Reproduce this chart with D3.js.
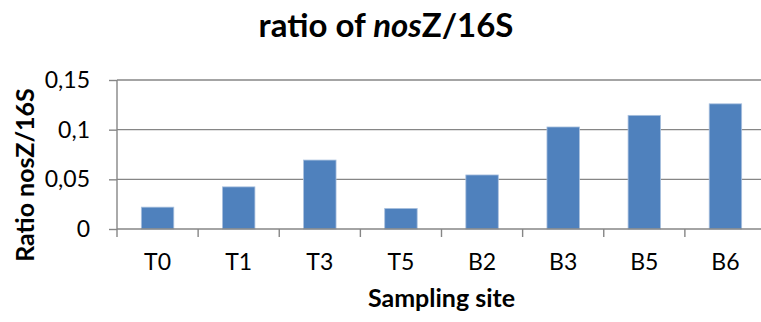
<!DOCTYPE html>
<html lang="en">
  <head>
    <meta charset="UTF-8" />
    <title>ratio of nosZ/16S</title>
    <style>
      body {
        margin: 0;
        background-color: #fff;
      }
      svg {
        display: block;
        font-family: Lato, "Open Sans", sans-serif;
      }
    </style>
  </head>
  <body>
    <svg id="chart" width="761" height="322"></svg>
    <script src="https://d3js.org/d3.v7.min.js"></script>
    <script>
      const sites = ["T0", "T1", "T3", "T5", "B2", "B3", "B5", "B6"];
      const ratios = [0.022, 0.0424, 0.0694, 0.0207, 0.0544, 0.1027, 0.1144, 0.126];
      const yTicks = [0, 0.05, 0.1, 0.15];
      const yTickLabels = ["0", "0,05", "0,1", "0,15"];

      const svg = d3.select("#chart");
      // plot area runs a bit past the right edge, like the cropped original
      const plot = { left: 117, right: 766, top: 80, bottom: 229 };
      const grey = "#868686";

      const x = d3
        .scaleBand()
        .domain(sites)
        .range([plot.left, plot.right])
        .paddingInner(0.6)
        .paddingOuter(0.3);

      const y = d3.scaleLinear().domain([0, 0.15]).range([plot.bottom, plot.top]);

      // gridlines
      svg
        .append("g")
        .selectAll("line")
        .data(yTicks.slice(1))
        .join("line")
        .attr("x1", plot.left)
        .attr("x2", plot.right)
        .attr("y1", (d) => y(d))
        .attr("y2", (d) => y(d))
        .style("stroke", grey)
        .style("stroke-width", 1.4);

      // bars
      svg
        .append("g")
        .selectAll("rect")
        .data(ratios)
        .join("rect")
        .attr("x", (d, i) => x(sites[i]))
        .attr("y", (d) => y(d))
        .attr("width", x.bandwidth())
        .attr("height", (d) => y(0) - y(d))
        .style("fill", "#4f81bd")
        .style("stroke", "#a9c0de")
        .style("stroke-width", 0.8);

      // y axis
      const yAxis = svg
        .append("g")
        .attr("transform", `translate(${plot.left},0)`)
        .call(
          d3
            .axisLeft(y)
            .tickValues(yTicks)
            .tickSize(8)
            .tickPadding(19)
            .tickFormat((d, i) => yTickLabels[i])
        );

      // x axis, ticks sit on category boundaries
      const xAxis = svg
        .append("g")
        .attr("transform", `translate(0,${plot.bottom})`)
        .call(d3.axisBottom(x).tickSize(0).tickPadding(25));

      const bounds = sites.map((s) => x(s) - (x.step() * x.paddingInner()) / 2);
      bounds.push(plot.right);
      xAxis
        .selectAll("line.bound")
        .data(bounds)
        .join("line")
        .attr("class", "bound")
        .attr("x1", (d) => d)
        .attr("x2", (d) => d)
        .attr("y1", 0)
        .attr("y2", 8);

      [yAxis, xAxis].forEach((g) => {
        g.select(".domain").style("stroke", grey).style("stroke-width", 1.4);
        g.selectAll("line").style("stroke", grey).style("stroke-width", 1.4);
        g.selectAll("text")
          .style("font-family", "Lato, sans-serif")
          .style("font-size", "23px")
          .style("fill", "#000");
      });
      yAxis.select(".domain").attr("d", `M0,${plot.bottom}V${plot.top}`);
      xAxis.select(".domain").attr("d", `M${plot.left},0H${plot.right}`);

      // titles
      const title = svg
        .append("text")
        .attr("x", 386)
        .attr("y", 37)
        .attr("text-anchor", "middle")
        .style("font-size", "33px")
        .style("font-weight", "bold")
        .style("fill", "#000");
      title.append("tspan").text("ratio of ");
      title.append("tspan").style("font-style", "italic").text("nos");
      title.append("tspan").text("Z/16S");

      svg
        .append("text")
        .attr("transform", "translate(34,175) rotate(-90)")
        .attr("text-anchor", "middle")
        .style("font-size", "25px")
        .style("font-weight", "bold")
        .style("fill", "#000")
        .text("Ratio nosZ/16S");

      svg
        .append("text")
        .attr("x", (plot.left + plot.right) / 2)
        .attr("y", 307)
        .attr("text-anchor", "middle")
        .style("font-size", "25px")
        .style("font-weight", "bold")
        .style("fill", "#000")
        .text("Sampling site");
    </script>
  </body>
</html>
